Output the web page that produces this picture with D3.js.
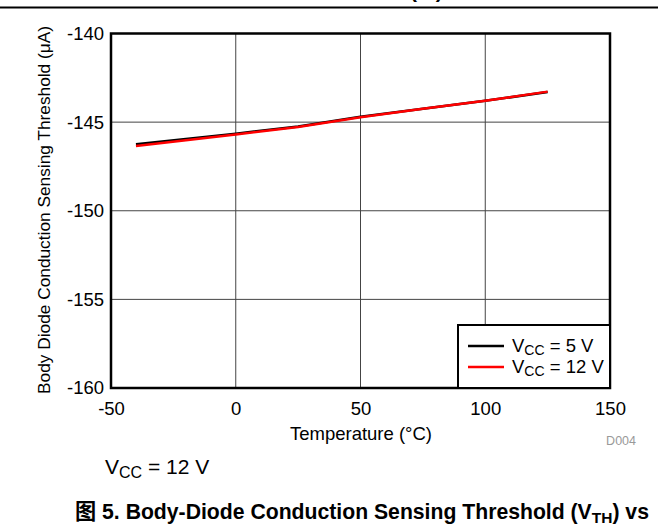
<!DOCTYPE html>
<html><head><meta charset="utf-8">
<script src="https://cdn.jsdelivr.net/npm/d3@7"></script>
<style>body{margin:0;background:#fff}svg{display:block}text{font-family:Arial,"Liberation Sans","Noto Sans CJK SC",sans-serif}</style>
</head><body><svg id="c" width="658" height="525"></svg>
<script>
const temps = [-40, -20, 0, 25, 50, 75, 100, 125];
const vcc5 = [-146.25, -145.95, -145.65, -145.25, -144.7, -144.25, -143.8, -143.3];
const vcc12 = [-146.35, -146.02, -145.7, -145.28, -144.72, -144.25, -143.8, -143.28];
const xTicks = [-50, 0, 50, 100, 150];
const yTicks = [-140, -145, -150, -155, -160];
const seriesNames = ["5 V", "12 V"];
const seriesColors = ["#000000", "#ff0000"];

const svg = d3.select("#c");
const L = 111, R = 610, T = 33.5, B = 388;
const x = d3.scaleLinear().domain([-50, 150]).range([L, R]);
const y = d3.scaleLinear().domain([-160, -140]).range([B, T]);
const fmt = d => String(d);

// top rule and cut-off previous caption
svg.append("line").attr("x1", 0).attr("x2", 658).attr("y1", 7.5).attr("y2", 7.5).attr("stroke", "#000").attr("stroke-width", 2);
svg.append("text").attr("x", 410).attr("y", -2).attr("font-size", 21).attr("font-weight", "bold").text("(T  )");

// gridlines
const g = svg.append("g");
g.selectAll(".gx").data(xTicks.slice(1, -1)).enter().append("line")
  .attr("x1", d => x(d)).attr("x2", d => x(d)).attr("y1", T).attr("y2", B)
  .attr("stroke", "#444").attr("stroke-width", 1);
g.selectAll(".gy").data(yTicks.slice(1, -1)).enter().append("line")
  .attr("x1", L).attr("x2", R).attr("y1", d => y(d)).attr("y2", d => y(d))
  .attr("stroke", "#444").attr("stroke-width", 1);

// axes labels via d3 axes (no lines)
const xa = svg.append("g").attr("transform", `translate(0,${B})`)
  .call(d3.axisBottom(x).tickValues(xTicks).tickSize(0).tickPadding(14).tickFormat(fmt));
xa.select(".domain").remove();
xa.selectAll("text").attr("font-size", 18.5).attr("fill", "#000").attr("font-family", "Arial,'Liberation Sans',sans-serif");
const ya = svg.append("g").attr("transform", `translate(${L},0)`)
  .call(d3.axisLeft(y).tickValues(yTicks).tickSize(0).tickPadding(7).tickFormat(fmt));
ya.select(".domain").remove();
ya.selectAll("text").attr("font-size", 18.5).attr("fill", "#000").attr("font-family", "Arial,'Liberation Sans',sans-serif");

// lines
const line = d3.line().x((d, i) => x(temps[i])).y(d => y(d));
[vcc5, vcc12].forEach((s, k) => {
  svg.append("path").datum(s).attr("d", line).attr("fill", "none")
    .attr("stroke", seriesColors[k]).attr("stroke-width", 2.5);
});

// border
svg.append("rect").attr("x", L).attr("y", T).attr("width", R - L).attr("height", B - T)
  .attr("fill", "none").attr("stroke", "#000").attr("stroke-width", 2.5);

// legend
const lg = svg.append("g");
lg.append("rect").attr("x", 458).attr("y", 325).attr("width", R - 458).attr("height", B - 325)
  .attr("fill", "#fff").attr("stroke", "#000").attr("stroke-width", 2);
seriesNames.forEach((n, k) => {
  const yy = 346 + k * 21;
  lg.append("line").attr("x1", 468).attr("x2", 504).attr("y1", yy).attr("y2", yy)
    .attr("stroke", seriesColors[k]).attr("stroke-width", 2.5);
  const t = lg.append("text").attr("x", 512).attr("y", yy + 6).attr("font-size", 18.5);
  t.append("tspan").text("V");
  t.append("tspan").attr("font-size", 14).attr("dy", 3).text("CC");
  t.append("tspan").attr("dy", -3).text(" = " + n);
});

// axis titles
svg.append("text").attr("x", 361).attr("y", 440).attr("text-anchor", "middle").attr("font-size", 18.5).text("Temperature (°C)");
svg.append("text").attr("transform", "translate(50,210) rotate(-90)").attr("text-anchor", "middle").attr("font-size", 17.3)
  .text("Body Diode Conduction Sensing Threshold (μA)");
svg.append("text").attr("x", 636).attr("y", 445).attr("text-anchor", "end").attr("font-size", 12.5).attr("fill", "#999").text("D004");

// condition
const c = svg.append("text").attr("x", 105).attr("y", 474).attr("font-size", 21);
c.append("tspan").text("V");
c.append("tspan").attr("font-size", 16).attr("dy", 4).text("CC");
c.append("tspan").attr("dy", -4).text(" = 12 V");

// caption
const cap = svg.append("text").attr("x", 75).attr("y", 519).attr("font-size", 21.2).attr("font-weight", "bold");
cap.append("tspan").text("图 5. Body-Diode Conduction Sensing Threshold (V");
cap.append("tspan").attr("font-size", 15.5).attr("dy", 4).text("TH");
cap.append("tspan").attr("dy", -4).text(") vs");
</script></body></html>
